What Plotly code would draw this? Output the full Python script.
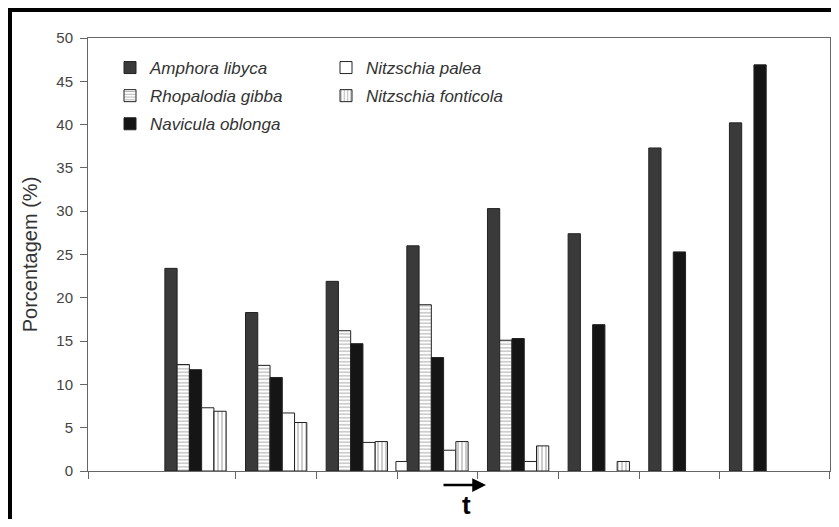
import plotly.graph_objects as go

# ---------------- data ----------------
samples = [1, 2, 3, 4, 5, 6, 7, 8]
amphora_libyca = [23.4, 18.3, 21.9, 26.0, 30.3, 27.4, 37.3, 40.2]
rhopalodia_gibba = [12.3, 12.2, 16.2, 19.2, 15.1, None, None, None]
navicula_oblonga = [11.7, 10.8, 14.7, 13.1, 15.3, 16.9, 25.3, 46.9]
nitzschia_palea = [7.3, 6.7, 3.3, 2.4, 1.1, None, None, None]
nitzschia_fonticola = [6.9, 5.6, 3.4, 3.4, 2.9, 1.1, None, None]
extra_palea_sample = [4]
extra_palea_value = [1.1]
y_ticks = [0, 5, 10, 15, 20, 25, 30, 35, 40, 45, 50]
y_title = "Porcentagem (%)"
time_label = "t"

# ---------------- layout geometry ----------------
# the page body has an 8px default margin, so window coords = figure coords + 8
OFF = 8
W, H = 823, 511
L, R, T, B = 80, 1, 30, 48
PW, PH = W - L - R, H - T - B


def px(x):
    return (x - OFF - L) / PW


def py(y):
    return 1 - (y - OFF - T) / PH


FONT = "Liberation Sans, Arial, sans-serif"
line_style = dict(color="#222222", width=1)

fig = go.Figure()

fig.add_trace(go.Bar(x=samples, y=amphora_libyca, name="Amphora libyca",
                     offsetgroup="1", legend="legend", legendgroup="a",
                     marker=dict(color="#3a3a3a", line=line_style)))
fig.add_trace(go.Bar(x=samples, y=rhopalodia_gibba, name="Rhopalodia gibba",
                     offsetgroup="2", legend="legend", legendgroup="b",
                     marker=dict(color="white", line=line_style,
                                 pattern=dict(shape="-", fgcolor="#555555", bgcolor="white",
                                              size=3.5, solidity=0.3))))
fig.add_trace(go.Bar(x=samples, y=navicula_oblonga, name="Navicula oblonga",
                     offsetgroup="3", legend="legend", legendgroup="c",
                     marker=dict(color="#151515", line=line_style)))
fig.add_trace(go.Bar(x=samples, y=nitzschia_palea, name="Nitzschia palea",
                     offsetgroup="4", legend="legend2", legendgroup="d",
                     marker=dict(color="white", line=line_style)))
fig.add_trace(go.Bar(x=samples, y=nitzschia_fonticola, name="Nitzschia fonticola",
                     offsetgroup="5", legend="legend2", legendgroup="e",
                     marker=dict(color="white", line=line_style,
                                 pattern=dict(shape="|", fgcolor="#555555", bgcolor="white",
                                              size=4, solidity=0.3))))
fig.add_trace(go.Bar(x=extra_palea_sample, y=extra_palea_value, name="Nitzschia palea",
                     offsetgroup="4", showlegend=False, offset=-0.515, width=0.14,
                     marker=dict(color="white", line=line_style)))

x_lo, x_hi = -0.333, 8.867
tickvals_x = [x_lo + 0.003, 1.5, 2.5, 3.5, 4.5, 5.5, 6.5, 7.5, x_hi - 0.004]

legend_common = dict(
    font=dict(family=FONT, size=17, color="#333333", style="italic"),
    bgcolor="rgba(0,0,0,0)", tracegroupgap=3, itemwidth=30,
    xanchor="left", yanchor="top", traceorder="grouped",
)

fig.update_layout(
    width=W, height=H,
    margin=dict(l=L, r=R, t=T, b=B, pad=0),
    paper_bgcolor="white", plot_bgcolor="white",
    barmode="group", bargap=0.24, bargroupgap=0,
    font=dict(family=FONT, color="#444444"),
    xaxis=dict(range=[x_lo, x_hi], tickvals=tickvals_x, ticktext=[""] * len(tickvals_x),
               ticks="outside", ticklen=7, tickcolor="#666666", tickwidth=1,
               showline=True, linecolor="#666666", linewidth=1, mirror=True,
               showgrid=False, zeroline=False),
    yaxis=dict(range=[0, 50], tickvals=y_ticks,
               ticks="outside", ticklen=7, tickcolor="#666666", tickwidth=1,
               tickfont=dict(family=FONT, size=15, color="#444444"),
               ticklabelstandoff=4,
               showline=True, linecolor="#666666", linewidth=1, mirror=True,
               showgrid=False, zeroline=False,
               title=dict(text=y_title, font=dict(family=FONT, size=20, color="#333333"),
                          standoff=13)),
    legend=dict(x=px(110), y=py(50), **legend_common),
    legend2=dict(x=px(326), y=py(50), **legend_common),
    shapes=[dict(type="rect", xref="paper", yref="paper",
                 x0=px(10), x1=px(870), y0=py(570), y1=py(10),
                 line=dict(color="black", width=4), fillcolor="rgba(0,0,0,0)", layer="above")],
    annotations=[
        dict(xref="paper", yref="paper", x=px(486), y=py(485), ax=-44, ay=0,
             axref="pixel", ayref="pixel", text="", showarrow=True,
             arrowhead=2, arrowsize=1.1, arrowwidth=2.5, arrowcolor="black"),
        dict(xref="paper", yref="paper", x=px(466), y=py(505), text="<b>" + time_label + "</b>",
             showarrow=False, font=dict(family=FONT, size=26, color="black"),
             xanchor="center", yanchor="middle"),
    ],
)

fig.write_html("out.html")
